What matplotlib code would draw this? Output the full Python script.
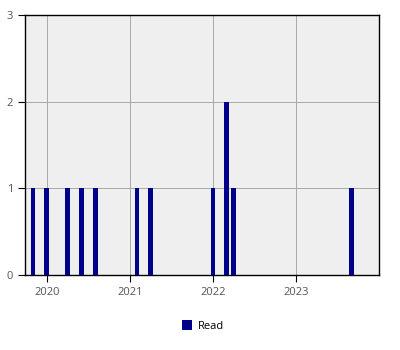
import matplotlib
matplotlib.use("Agg")
import matplotlib.pyplot as plt
import datetime as dt

dates = ["2019-11-01", "2020-01-01", "2020-04-01", "2020-06-01", "2020-08-01",
         "2021-02-01", "2021-04-01", "2022-01-01", "2022-03-01", "2022-04-01",
         "2023-09-01"]
counts = [1, 1, 1, 1, 1, 1, 1, 1, 2, 1, 1]
series_label = "Read"
year_ticks = ["2020", "2021", "2022", "2023"]

plt.rcParams['font.family'] = ['Open Sans', 'DejaVu Sans']

fig = plt.figure(figsize=(4, 3.5), dpi=100)
ax = fig.add_axes([25/400, 1-275/350, (379-25)/400, (275-15)/350])
ax.set_facecolor('#efefef')

x = [dt.datetime.strptime(d, "%Y-%m-%d") for d in dates]
ax.bar(x, counts, width=21, color='#00008b', label=series_label, zorder=3)

ax.set_xlim(dt.datetime(2019, 9, 27), dt.datetime(2024, 1, 1))
ax.set_ylim(0, 3)
ax.set_yticks([0, 1, 2, 3])
ax.set_xticks([dt.datetime(int(y), 1, 1) for y in year_ticks])
ax.set_xticklabels(year_ticks)
ax.grid(True, color='#a8a8a8', linewidth=0.7, zorder=0)
ax.tick_params(axis='both', labelsize=8, labelcolor='#555555', length=5, color='black')
for s in ax.spines.values():
    s.set_color('black')
    s.set_linewidth(1)

fig.legend(loc='center', bbox_to_anchor=(0.5 + 3/400, 1-326/350), frameon=False, fontsize=8,
           handlelength=0.9, handleheight=0.9, handletextpad=0.6)

fig.savefig("out.png", dpi=100)
